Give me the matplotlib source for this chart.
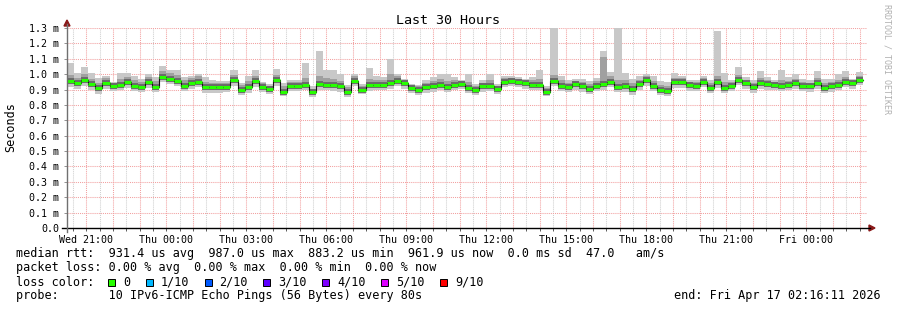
"""SmokePing style latency chart: last 30 hours, median RTT with ping smoke."""

import numpy as np
import matplotlib
matplotlib.use("Agg")
from matplotlib import pyplot as plt
from matplotlib.patches import Polygon, Rectangle
from matplotlib.lines import Line2D

W, H = 897, 310

# time axis: hours since Wed 00:00
BIN_START_H = 20 + 16 / 60           # first consolidated bin, Wed 20:16
BIN_MINUTES = 16
VIEW_START_H = 20 + 16 / 60 + 11 / 3600   # Wed 20:16:11
VIEW_HOURS = 30

TIME_LABELS = ["Wed 21:00", "Thu 00:00", "Thu 03:00", "Thu 06:00", "Thu 09:00",
               "Thu 12:00", "Thu 15:00", "Thu 18:00", "Thu 21:00", "Fri 00:00"]
TIME_LABEL_HOURS = [21, 24, 27, 30, 33, 36, 39, 42, 45, 48]

Y_TICKS = [0.0, 0.1, 0.2, 0.3, 0.4, 0.5, 0.6, 0.7, 0.8, 0.9, 1.0, 1.1, 1.2, 1.3]

# median rtt per 16 min bin (ms)
median_ms = [
    0.955, 0.940, 0.962, 0.934, 0.908, 0.940, 0.920, 0.930, 0.948, 0.925, 0.918,
    0.946, 0.918, 0.984, 0.970, 0.957, 0.925, 0.940, 0.950, 0.916, 0.914, 0.915,
    0.916, 0.960, 0.900, 0.916, 0.955, 0.916, 0.901, 0.960, 0.884, 0.925, 0.925,
    0.930, 0.883, 0.935, 0.930, 0.928, 0.920, 0.885, 0.958, 0.900, 0.928, 0.930,
    0.930, 0.940, 0.958, 0.940, 0.912, 0.900, 0.915, 0.920, 0.932, 0.915, 0.930,
    0.936, 0.910, 0.900, 0.920, 0.925, 0.902, 0.950, 0.955, 0.950, 0.940, 0.930,
    0.930, 0.887,
    0.957, 0.924, 0.917, 0.935, 0.920, 0.902, 0.924, 0.935, 0.950, 0.917, 0.920,
    0.902, 0.933, 0.959, 0.924, 0.898, 0.893, 0.946, 0.946, 0.928, 0.924, 0.950,
    0.913, 0.946, 0.913, 0.926, 0.963, 0.940,
    0.915, 0.940, 0.935, 0.930, 0.925, 0.930, 0.940, 0.925, 0.920, 0.940, 0.910,
    0.920, 0.930, 0.950, 0.940, 0.962,
]

# fastest / slowest ping per bin (outer smoke)
ping_min_ms = [
    0.918, 0.905, 0.925, 0.897, 0.874, 0.905, 0.888, 0.897, 0.912, 0.890, 0.885,
    0.910, 0.884, 0.948, 0.936, 0.922, 0.889, 0.905, 0.915, 0.880, 0.878, 0.880,
    0.881, 0.925, 0.866, 0.880, 0.918, 0.882, 0.868, 0.924, 0.855, 0.890, 0.891,
    0.895, 0.852, 0.900, 0.895, 0.893, 0.886, 0.853, 0.922, 0.868, 0.893, 0.896,
    0.895, 0.905, 0.923, 0.906, 0.878, 0.867, 0.880, 0.886, 0.897, 0.881, 0.895,
    0.902, 0.876, 0.866, 0.885, 0.891, 0.868, 0.915, 0.921, 0.915, 0.906, 0.895,
    0.894, 0.855,
    0.922, 0.889, 0.883, 0.900, 0.886, 0.868, 0.890, 0.899, 0.915, 0.882, 0.885,
    0.867, 0.898, 0.924, 0.889, 0.864, 0.860, 0.911, 0.912, 0.893, 0.890, 0.915,
    0.879, 0.911, 0.878, 0.891, 0.928, 0.905,
    0.880, 0.905, 0.900, 0.895, 0.890, 0.896, 0.905, 0.890, 0.886, 0.905, 0.876,
    0.885, 0.895, 0.915, 0.906, 0.927,
]
ping_max_ms = [
    1.075, 1.010, 1.049, 1.010, 0.977, 0.990, 0.951, 1.008, 1.008, 0.988, 0.966,
    1.000, 0.979, 1.053, 1.027, 1.027, 0.979, 0.988, 1.000, 0.979, 0.962, 0.956,
    0.958, 1.027, 0.945, 0.990, 1.027, 0.951, 0.935, 1.036, 0.945, 0.962, 0.962,
    1.070, 0.920, 1.150, 1.030, 1.025, 1.000, 0.930, 1.000, 0.935, 1.040, 0.985,
    0.980, 1.100, 1.000, 0.970, 0.935, 0.930, 0.960, 0.980, 1.000, 1.000, 0.980,
    0.965, 1.000, 0.935, 0.960, 1.000, 0.935, 0.985, 0.985, 0.980, 0.970, 0.980,
    1.030, 0.925,
    1.300, 0.990, 0.960, 0.970, 0.967, 0.954, 0.978, 1.152, 1.015, 1.300, 1.006,
    0.970, 0.985, 1.000, 0.985, 0.955, 0.950, 1.006, 0.985, 0.965, 0.965, 0.985,
    0.960, 1.280, 1.006, 0.965, 1.048, 0.980,
    0.960, 1.020, 0.980, 0.960, 1.030, 0.980, 1.000, 0.970, 0.960, 1.020, 0.970,
    0.970, 1.000, 1.020, 0.970, 1.015,
]

# 2nd fastest / 2nd slowest ping per bin (inner smoke)
inner_low_ms = [
    0.937, 0.922, 0.944, 0.916, 0.890, 0.922, 0.902, 0.912, 0.930, 0.907, 0.900,
    0.928, 0.900, 0.966, 0.952, 0.939, 0.907, 0.922, 0.932, 0.898, 0.896, 0.897,
    0.898, 0.942, 0.882, 0.898, 0.937, 0.898, 0.883, 0.942, 0.866, 0.907, 0.907,
    0.912, 0.865, 0.917, 0.912, 0.910, 0.902, 0.867, 0.940, 0.882, 0.910, 0.912,
    0.912, 0.922, 0.940, 0.922, 0.894, 0.882, 0.897, 0.902, 0.914, 0.897, 0.912,
    0.918, 0.892, 0.882, 0.902, 0.907, 0.884, 0.932, 0.937, 0.932, 0.922, 0.912,
    0.912, 0.869,
    0.939, 0.906, 0.899, 0.917, 0.902, 0.884, 0.906, 0.917, 0.932, 0.899, 0.902,
    0.884, 0.915, 0.941, 0.906, 0.880, 0.875, 0.928, 0.928, 0.910, 0.906, 0.932,
    0.895, 0.928, 0.895, 0.908, 0.945, 0.922,
    0.897, 0.922, 0.917, 0.912, 0.907, 0.912, 0.922, 0.907, 0.902, 0.922, 0.892,
    0.902, 0.912, 0.932, 0.922, 0.944,
]
inner_high_ms = [
    0.995, 0.975, 1.000, 0.970, 0.945, 0.972, 0.945, 0.968, 0.980, 0.960, 0.952,
    0.980, 0.955, 1.020, 1.005, 0.995, 0.960, 0.975, 0.985, 0.950, 0.945, 0.945,
    0.945, 0.995, 0.930, 0.955, 0.990, 0.940, 0.925, 0.995, 0.920, 0.950, 0.950,
    0.975, 0.905, 0.985, 0.975, 0.970, 0.955, 0.915, 0.985, 0.925, 0.970, 0.962,
    0.960, 1.000, 0.985, 0.962, 0.930, 0.922, 0.945, 0.955, 0.967, 0.955, 0.962,
    0.955, 0.950, 0.925, 0.945, 0.960, 0.925, 0.972, 0.975, 0.970, 0.960, 0.960,
    0.970, 0.910,
    0.995, 0.960, 0.945, 0.958, 0.950, 0.935, 0.955, 1.110, 0.985, 0.960, 0.960,
    0.940, 0.962, 0.985, 0.955, 0.930, 0.925, 0.978, 0.972, 0.952, 0.950, 0.972,
    0.942, 0.990, 0.950, 0.952, 0.995, 0.965,
    0.942, 0.972, 0.962, 0.952, 0.962, 0.958, 0.970, 0.952, 0.945, 0.972, 0.942,
    0.948, 0.960, 0.980, 0.960, 0.990,
]

LOSS_LABELS = ["0", "1/10", "2/10", "3/10", "4/10", "5/10", "9/10"]
LOSS_COLORS = ["#26ff00", "#00b8ff", "#0059ff", "#5e00ff", "#7e00ff", "#dd00ff", "#ff0000"]

RTT_LINE = ("median rtt:  931.4 us avg  987.0 us max  883.2 us min  "
            "961.9 us now  0.0 ms sd  47.0   am/s")
LOSS_LINE = "packet loss: 0.00 % avg  0.00 % max  0.00 % min  0.00 % now"
PROBE_LINE = "probe:       10 IPv6-ICMP Echo Pings (56 Bytes) every 80s"
END_LINE = "end: Fri Apr 17 02:16:11 2026"

MONO = "DejaVu Sans Mono"
CW = 7.1  # legend char width in px


def fx(x):
    return x / W


def fy(y):
    return 1 - y / H


def step_ext(values):
    values = np.asarray(values)
    return np.append(values, values[-1])


fig = plt.figure(figsize=(W / 100, H / 100), dpi=100)
fig.patch.set_facecolor("white")
ax = fig.add_axes([fx(67), fy(228), 800 / W, 200 / H])
ax.set_facecolor("white")
for spine in ax.spines.values():
    spine.set_visible(False)

n = len(median_ms)
width = BIN_MINUTES / 60
edges = BIN_START_H + np.arange(n) * width
edges_ext = np.append(edges, edges[-1] + width)

# grid below the smoke
x0, x1 = VIEW_START_H, VIEW_START_H + VIEW_HOURS
for h in np.arange(np.ceil(x0 * 2) / 2, x1, 0.5):
    major = abs(h - round(h)) < 1e-6
    ax.axvline(h, color="#f2a0a0" if major else "#cfcfcf", lw=0.75,
               linestyle=(0, (1, 1)), zorder=0.5)
for v in Y_TICKS[1:]:
    ax.axhline(v, color="#f2a0a0", lw=0.75, linestyle=(0, (1, 1)), zorder=0.5)

# smoke
ax.fill_between(edges_ext, step_ext(ping_min_ms), step_ext(ping_max_ms),
                step="post", color="#c8c8c8", linewidth=0, zorder=1)
ax.fill_between(edges_ext, step_ext(inner_low_ms), step_ext(inner_high_ms),
                step="post", color="#a0a0a0", linewidth=0, zorder=1.1)

# median: dark core, black steps, green loss colour
ax.hlines(median_ms, edges, edges + width, color="#686868", lw=4.2, zorder=3)
ax.step(edges_ext, step_ext(median_ms), where="post", color="#111111",
        lw=0.8, zorder=3.5)
ax.hlines(median_ms, edges, edges + width, color=LOSS_COLORS[0], lw=2.2, zorder=4)

ax.set_xlim(x0, x1)
ax.set_ylim(0, 1.3)

ax.set_yticks(Y_TICKS)
ax.set_yticklabels(["0.0" if v == 0 else f"{v:.1f} m" for v in Y_TICKS],
                   family=MONO, fontsize=7.2)
ax.set_xticks(TIME_LABEL_HOURS)
ax.set_xticklabels(TIME_LABELS, family=MONO, fontsize=7.2)
ax.set_xticks(np.arange(np.ceil(x0 * 2) / 2, x1, 0.5), minor=True)
ax.tick_params(axis="y", length=2.5, width=0.6, color="#808080", pad=3)
ax.tick_params(axis="x", which="both", length=2, width=0.6, color="#404040", pad=3)
ax.tick_params(axis="y", which="minor", length=0)

# axes with arrows
fig.add_artist(Line2D([fx(62), fx(870)], [fy(228), fy(228)], color="black", lw=1))
fig.add_artist(Line2D([fx(67), fx(67)], [fy(232), fy(24)], color="#707070", lw=1))
fig.add_artist(Polygon([(fx(64), fy(26)), (fx(70), fy(26)), (fx(67), fy(20))],
                       closed=True, color="#8b1a1a", transform=fig.transFigure))
fig.add_artist(Polygon([(fx(869), fy(225)), (fx(869), fy(231)), (fx(875), fy(228))],
                       closed=True, color="#8b1a1a", transform=fig.transFigure))

fig.text(fx(448), fy(20), "Last 30 Hours", family=MONO, fontsize=9.6,
         ha="center", va="center")
fig.text(fx(11), fy(127), "Seconds", family=MONO, fontsize=8.5, rotation=90,
         ha="center", va="center")
fig.text(fx(887), fy(4), "RRDTOOL / TOBI OETIKER", family=MONO, fontsize=6,
         rotation=270, ha="center", va="top", color="#b0b0b0")

# legend
fig.text(fx(16), fy(254), RTT_LINE, family=MONO, fontsize=8.5, va="center")
fig.text(fx(16), fy(268), LOSS_LINE, family=MONO, fontsize=8.5, va="center")
fig.text(fx(16), fy(282), "loss color:", family=MONO, fontsize=8.5, va="center")
box_x = 108
for label, color in zip(LOSS_LABELS, LOSS_COLORS):
    fig.add_artist(Rectangle((fx(box_x), fy(285.5)), 7 / W, 7 / H,
                             facecolor=color, edgecolor="black", lw=0.7,
                             transform=fig.transFigure))
    text_x = box_x + 15
    fig.text(fx(text_x), fy(282), label, family=MONO, fontsize=8.5, va="center")
    box_x = text_x + len(label) * CW + 15.5
fig.text(fx(16), fy(296), PROBE_LINE, family=MONO, fontsize=8.5, va="center")
fig.text(fx(881), fy(296), END_LINE, family=MONO, fontsize=8.5, va="center",
         ha="right")

fig.savefig("out.png", dpi=100)
